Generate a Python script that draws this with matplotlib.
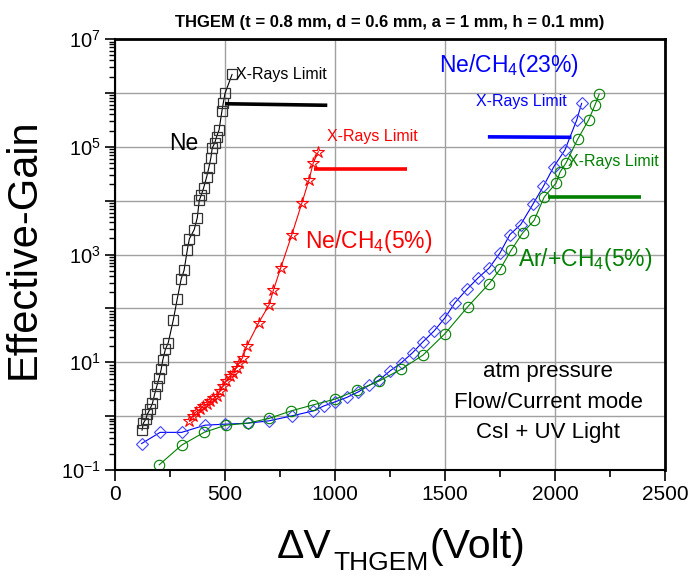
import math

import matplotlib

matplotlib.use("Agg")
import matplotlib.pyplot as plt  # noqa: E402
from matplotlib.ticker import FixedLocator, FuncFormatter, LogLocator, MultipleLocator  # noqa: E402

plt.rcParams["font.family"] = ["Liberation Sans", "DejaVu Sans"]
plt.rcParams["mathtext.fontset"] = "custom"
plt.rcParams["mathtext.rm"] = "Liberation Sans"
plt.rcParams["mathtext.it"] = "Liberation Sans:italic"

# Ne
ne_v = [123, 129, 140, 147, 159, 170, 180, 190, 201, 210, 217, 229, 242, 265, 283, 301,
        314, 329, 338, 360, 374, 383, 392, 403, 417, 426, 436, 442, 453, 462, 473, 486,
        492, 500, 532]
ne_g = [0.55, 0.74, 0.88, 1.09, 1.35, 1.72, 2.55, 3.6, 5.2, 7.4, 10.9, 17.4, 23, 61, 151, 355,
        510, 1240, 1950, 2900, 4800, 1.01e4, 1.27e4, 1.73e4, 2.8e4, 4.0e4, 6.3e4, 9.5e4,
        1.17e5, 1.55e5, 2.06e5, 4.6e5, 6.45e5, 9.8e5, 2.2e6]

# Ne/CH4 (5%)
neme5_v = [338, 353, 368, 386, 401, 417, 432, 447, 465, 477, 492, 505, 523, 535, 553, 565,
           580, 599, 653, 701, 720, 753, 803, 850, 882, 901, 924]
neme5_g = [0.82, 1.01, 1.20, 1.35, 1.55, 1.67, 1.92, 2.13, 2.38, 2.94, 3.64, 4.5, 5.6, 6.45,
           8.0, 9.9, 12.2, 20, 54, 118, 218, 560, 2280, 9200, 2.45e4, 5.0e4, 8.1e4]

# Ne/CH4 (23%)
neme23_v = [121, 205, 303, 409, 500, 603, 701, 803, 901, 950, 1000, 1053, 1106, 1156, 1201,
            1250, 1303, 1353, 1399, 1450, 1500, 1545, 1599, 1651, 1701, 1750, 1795, 1844,
            1899, 1947, 1995, 2045, 2099, 2121]
neme23_g = [0.31, 0.50, 0.50, 0.68, 0.71, 0.74, 0.82, 1.01, 1.25, 1.55, 1.84, 2.22, 2.82, 3.75,
            4.7, 6.9, 9.9, 15.1, 23.8, 38, 67, 127, 225, 370, 565, 1070, 2350, 3600, 8500,
            1.84e4, 4.3e4, 8.7e4, 3.16e5, 6.4e5]

# Ar/CH4 (5%)
arme_v = [201, 303, 405, 503, 603, 701, 800, 901, 1000, 1101, 1201, 1300, 1399, 1500, 1603,
          1701, 1750, 1800, 1853, 1905, 1951, 2005, 2023, 2050, 2103, 2153, 2182, 2201]
arme_g = [0.125, 0.29, 0.50, 0.68, 0.74, 0.91, 1.25, 1.62, 2.07, 3.03, 4.5, 7.4, 13.5, 34, 107,
          290, 530, 1190, 2520, 4300, 1.17e4, 2.12e4, 3.4e4, 5.0e4, 1.38e5, 3.16e5, 6.0e5, 9.5e5]

# X-ray limits: (voltages, gains)
ne_lim = ([500, 965], [6.3e5, 5.9e5])
neme5_lim = ([903, 1327], [3.9e4, 3.9e4])
neme23_lim = ([1695, 2075], [1.53e5, 1.5e5])
arme_lim = ([1970, 2390], [1.15e4, 1.15e4])

BLUE = "#0000ff"
GREEN = "#008000"

fig = plt.figure(figsize=(6.94, 5.77), dpi=100)
ax = fig.add_axes([0.1657, 0.1854, 0.7925, 0.7469])
ax.set_yscale("log")
ax.set_xlim(0, 2500)
ax.set_ylim(0.1, 1e7)

ax.plot(ne_v, ne_g, color="black", lw=0.8, marker="s", ms=6.5, mfc="none", mec="#333333", mew=0.9)
ax.plot(neme5_v, neme5_g, color="red", lw=0.8, marker="*", ms=9, mfc="none", mec="red", mew=0.8)
ax.plot(neme23_v, neme23_g, color=BLUE, lw=0.8, marker="D", ms=6.5, mfc="none", mec="#4444ff", mew=0.8)
ax.plot(arme_v, arme_g, color=GREEN, lw=0.8, marker="o", ms=7.5, mfc="none", mec=GREEN, mew=0.8)

for (xs, ys), c in [(ne_lim, "black"), (neme5_lim, "red"), (neme23_lim, BLUE), (arme_lim, GREEN)]:
    ax.plot(xs, ys, color=c, lw=2.6, solid_capstyle="butt")

lim_kw = dict(fontsize=11.5, va="baseline")
ax.text(550, 1.8e6, "X-Rays Limit", color="black", ha="left", **lim_kw)
ax.text(1168, 1.26e5, "X-Rays Limit", color="red", ha="center", **lim_kw)
ax.text(1845, 5.6e5, "X-Rays Limit", color=BLUE, ha="center", **lim_kw)
ax.text(2059, 4.4e4, "X-Rays Limit", color=GREEN, ha="left", **lim_kw)

gas_kw = dict(fontsize=16.5, ha="center", va="baseline")
ax.text(314, 8.8e4, "Ne", color="black", **gas_kw)
ax.text(1155, 1.35e3, "Ne/CH$_4$(5%)", color="red", **gas_kw)
ax.text(1791, 2.45e6, "Ne/CH$_4$(23%)", color=BLUE, **gas_kw)
ax.text(2136, 6.0e2, "Ar/+CH$_4$(5%)", color=GREEN, **gas_kw)

note_lines = ["atm pressure", "Flow/Current mode", "CsI + UV Light"]
note_y = [5.3, 1.41, 0.39]
for line, y in zip(note_lines, note_y):
    ax.text(1968, y, line, fontsize=16, color="black", ha="center", va="baseline")

ax.xaxis.set_major_locator(MultipleLocator(500))
ax.xaxis.set_minor_locator(MultipleLocator(250))
ax.yaxis.set_major_locator(FixedLocator([10.0 ** k for k in range(-1, 8)]))
ax.yaxis.set_minor_locator(LogLocator(base=10, subs=range(2, 10), numticks=20))


def odd_decades(val, pos):
    k = int(round(math.log10(val)))
    return rf"$\mathdefault{{10^{{{k}}}}}$" if k % 2 else ""


ax.yaxis.set_major_formatter(FuncFormatter(odd_decades))
ax.grid(True, which="major", color="#a0a0a0", lw=1.0)
ax.set_axisbelow(True)
ax.tick_params(axis="y", which="major", direction="out", length=7, width=1.2, labelsize=14.5, pad=3)
ax.tick_params(axis="y", which="minor", direction="out", length=4.5, width=1.0)
ax.tick_params(axis="x", which="major", direction="out", length=8, width=1.2, labelsize=15, pad=3)
ax.tick_params(axis="x", which="minor", direction="out", length=5, width=1.2)
for side, s in ax.spines.items():
    s.set_linewidth(2.0 if side in ("top", "right") else 1.5)

ax.set_ylabel("Effective-Gain", fontsize=30)
ax.yaxis.set_label_coords(-0.129, 0.513)

# x label built from pieces so the subscript sits low like the original
t1 = fig.text(277 / 694, 1 - 558 / 577, "ΔV", fontsize=29.5, ha="left", va="baseline")
t2 = ax.annotate("THGEM", xy=(1, 0), xycoords=t1, xytext=(1, -6.8), textcoords="offset points",
                 fontsize=19, ha="left", va="bottom", annotation_clip=False)
ax.annotate("(Volt)", xy=(1, 0), xycoords=(t2, t1), xytext=(0.5, 0), textcoords="offset points",
            fontsize=29.5, ha="left", va="bottom", annotation_clip=False)

ax.set_title("THGEM (t = 0.8 mm, d = 0.6 mm, a = 1 mm, h = 0.1 mm)", fontsize=12,
             fontweight="bold", pad=9)

fig.savefig("out.png", dpi=100)
